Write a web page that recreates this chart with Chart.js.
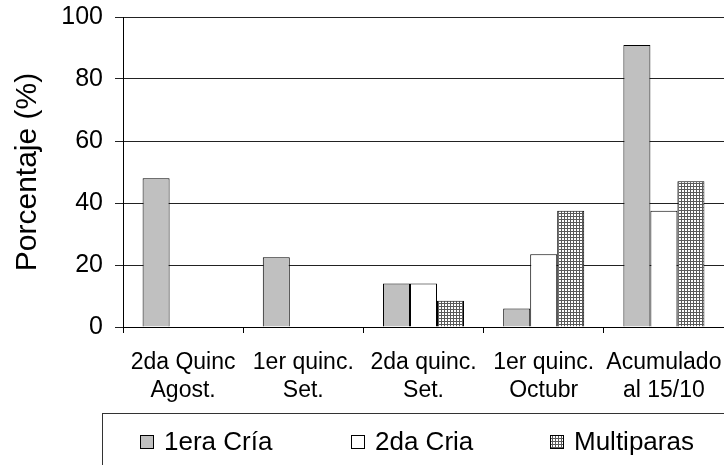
<!DOCTYPE html>
<html>
<head>
<meta charset="utf-8">
<script src="https://cdn.jsdelivr.net/npm/chart.js@4.4.0/dist/chart.umd.min.js"></script>
<style>
  html, body { margin: 0; padding: 0; background: #fff; }
  #wrap { width: 724px; height: 465px; position: relative; }
</style>
</head>
<body>
<div id="wrap"><canvas id="partosChart"></canvas></div>
<script>
const categories = [
  ["2da Quinc", "Agost."],
  ["1er quinc.", "Set."],
  ["2da quinc.", "Set."],
  ["1er quinc.", "Octubr"],
  ["Acumulado", "al 15/10"],
]
const primeraCria = [48, 22.5, 14, 6, 91]
const segundaCria = [0, 0, 14, 23.5, 37.5]
const multiparas = [0, 0, 8.5, 37.5, 47]
const yTicks = [0, 20, 40, 60, 80, 100]

const FONT = "'Liberation Sans', Arial, sans-serif"

//crosshatch fill for multiparas
function makeHatch() {
  const c = document.createElement("canvas")
  c.width = 3
  c.height = 3
  const ctx = c.getContext("2d")
  ctx.fillStyle = "#ffffff"
  ctx.fillRect(0, 0, 3, 3)
  ctx.fillStyle = "#5a5a5a"
  ctx.fillRect(0, 0, 3, 1)
  ctx.fillRect(0, 0, 1, 3)
  return ctx.createPattern(c, "repeat")
}
const hatch = makeHatch()

//legend drawn in a framed box under the axis
const boxLegend = {
  id: "boxLegend",
  afterDraw(chart) {
    const ctx = chart.ctx
    ctx.save()
    ctx.strokeStyle = "#333"
    ctx.lineWidth = 1
    ctx.strokeRect(102.5, 413.5, 700, 100)
    const starts = [140, 351, 550]
    ctx.font = "26px " + FONT
    ctx.textBaseline = "middle"
    chart.data.datasets.forEach((ds, i) => {
      const x = starts[i]
      ctx.fillStyle = ds.backgroundColor
      ctx.fillRect(x, 435, 14, 14)
      ctx.strokeStyle = "#000"
      ctx.strokeRect(x + 0.5, 435.5, 13, 13)
      ctx.fillStyle = "#000"
      ctx.fillText(ds.label, x + 24, 443)
    })
    ctx.restore()
  },
}

const data = {
  labels: categories,
  datasets: [
    {
      label: "1era Cría",
      data: primeraCria,
      backgroundColor: "#c0c0c0",
      borderColor: "#000",
      borderWidth: 1,
    },
    {
      label: "2da Cria",
      data: segundaCria,
      backgroundColor: "#ffffff",
      borderColor: "#000",
      borderWidth: 1,
    },
    {
      label: "Multiparas",
      data: multiparas,
      backgroundColor: hatch,
      borderColor: "#000",
      borderWidth: 1,
    },
  ],
}

const config = {
  type: "bar",
  data: data,
  options: {
    responsive: true,
    maintainAspectRatio: false,
    animation: false,
    layout: {
      padding: { left: 0, top: 17, right: 0, bottom: 58 },
    },
    datasets: {
      bar: {
        categoryPercentage: 0.674,
        barPercentage: 1,
        borderSkipped: "start",
      },
    },
    plugins: {
      legend: { display: false },
      tooltip: { enabled: false },
    },
    scales: {
      x: {
        grid: {
          offset: true,
          drawOnChartArea: false,
          tickLength: 6,
          color: "#000",
        },
        border: { display: true, color: "#000", width: 1 },
        ticks: {
          color: "#000",
          padding: 15,
          maxRotation: 0,
          autoSkip: false,
          font: { family: FONT, size: 23, lineHeight: 1.25 },
        },
        afterFit(scale) {
          scale.height = 80
          scale.paddingLeft = 0
          scale.paddingRight = 0
        },
      },
      y: {
        min: 0,
        max: 100,
        afterBuildTicks(scale) {
          scale.ticks = yTicks.map((v) => ({ value: v }))
        },
        grid: {
          color: "#222",
          tickLength: 8,
        },
        border: { display: true, color: "#000", width: 1 },
        ticks: {
          color: "#000",
          padding: 12,
          font: { family: FONT, size: 25 },
        },
        title: {
          display: true,
          text: "Porcentaje (%)",
          color: "#000",
          padding: { top: 10, bottom: 0 },
          font: { family: FONT, size: 30, lineHeight: 1.2 },
        },
        afterFit(scale) {
          scale.width = 123
          scale.paddingTop = 0
          scale.paddingBottom = 0
        },
      },
    },
  },
  plugins: [boxLegend],
}

new Chart(document.getElementById("partosChart"), config)
</script>
</body>
</html>
